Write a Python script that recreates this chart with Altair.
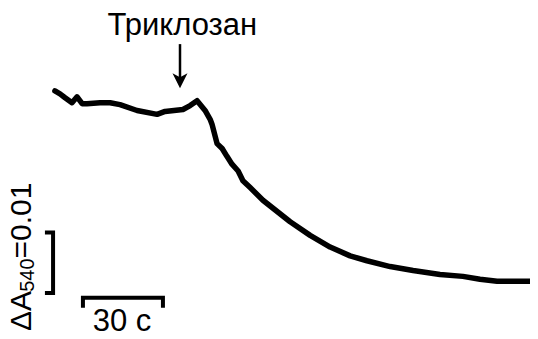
import altair as alt
import pandas as pd

# Trace (time in s, absorbance at 540 nm)
time_s = [17.6, 19.5, 21.4, 24.0, 25.9, 27.8, 29.6, 34.5, 38.3, 42.0, 48.4, 55.9,
          58.9, 65.6, 68.3, 70.9, 73.9, 75.8, 76.5, 78.4, 80.3, 82.1, 84.0, 86.3,
          88.1, 90.8, 95.6, 105.8, 113.3, 120.8, 128.3, 134.6, 143.3, 151.9, 162.0,
          170.6, 177.0, 183.4, 192.0, 198.75]
absorb = [0.03968, 0.03919, 0.03855, 0.03774, 0.03871, 0.03758, 0.03758, 0.03774,
          0.03774, 0.03742, 0.03645, 0.03581, 0.03629, 0.03661, 0.03726, 0.03806,
          0.03645, 0.03500, 0.03419, 0.03097, 0.03016, 0.02887, 0.02758, 0.02645,
          0.02484, 0.02371, 0.02161, 0.01806, 0.01581, 0.01387, 0.01242, 0.01161,
          0.01065, 0.01000, 0.00935, 0.00903, 0.00855, 0.00823, 0.00823, 0.00823]

# Scale bars (30 s and dA = 0.01)
vbar_t = [14.6, 16.9, 16.9, 14.6]
vbar_a = [0.01629, 0.01629, 0.00629, 0.00629]
hbar_t = [28.1, 28.1, 58.1, 58.1]
hbar_a = [0.00419, 0.00548, 0.00548, 0.00419]

# Annotation anchors
label_text = ["Триклозан"]
label_t = [65.4]
label_a = [0.04900]
arrow_t = [64.5]
arrow_top = [0.04742]
arrow_bottom = [0.04177]
arrow_head_a = [0.04137]
time_label = ["30 с"]
time_label_t = [42.75]
time_label_a = [0.0]
abs_parts = ["ΔA", "540", "=0.01"]
abs_parts_t = [8.6, 9.9, 8.6]
abs_parts_a = [0.0, 0.00648, 0.01198]
abs_parts_size = [30, 20, 30]

XS = alt.Scale(domain=[0, 195.75], nice=False, zero=False)
YS = alt.Scale(domain=[0, 0.05339], nice=False, zero=False)
FONT = "Liberation Sans"

def X(f="t"):
    return alt.X(f"{f}:Q", scale=XS, axis=None)

def Y(f="a"):
    return alt.Y(f"{f}:Q", scale=YS, axis=None)

trace_df = pd.DataFrame({"t": time_s, "a": absorb, "o": range(len(time_s))})
trace = alt.Chart(trace_df).mark_line(
    color="black", strokeWidth=5.5, strokeJoin="round", strokeCap="round", clip=True
).encode(x=X(), y=Y(), order="o:Q")

vbar_df = pd.DataFrame({"t": vbar_t, "a": vbar_a, "o": range(4)})
vbar = alt.Chart(vbar_df).mark_line(
    color="black", strokeWidth=4, strokeJoin="miter", strokeCap="square"
).encode(x=X(), y=Y(), order="o:Q")

hbar_df = pd.DataFrame({"t": hbar_t, "a": hbar_a, "o": range(4)})
hbar = alt.Chart(hbar_df).mark_line(
    color="black", strokeWidth=4, strokeJoin="miter", strokeCap="square"
).encode(x=X(), y=Y(), order="o:Q")

label_df = pd.DataFrame({"t": label_t, "a": label_a, "s": label_text})
label = alt.Chart(label_df).mark_text(
    font=FONT, fontSize=31, align="center", baseline="alphabetic", color="black"
).encode(x=X(), y=Y(), text="s:N")

arrow_df = pd.DataFrame({"t": arrow_t, "a": arrow_top, "a2": arrow_bottom, "h": arrow_head_a})
shaft = alt.Chart(arrow_df).mark_rule(color="black", strokeWidth=2.5).encode(
    x=X(), y=Y(), y2="a2:Q"
)
head = alt.Chart(arrow_df).mark_point(
    shape="M-1,-1L0,-0.45L1,-1L0,1Z", size=225, filled=True, color="black", opacity=1
).encode(x=X(), y=Y("h"))

tl_df = pd.DataFrame({"t": time_label_t, "a": time_label_a, "s": time_label})
tlabel = alt.Chart(tl_df).mark_text(
    font=FONT, fontSize=31, align="center", baseline="alphabetic", color="black"
).encode(x=X(), y=Y(), text="s:N")

ab_df = pd.DataFrame({"t": abs_parts_t, "a": abs_parts_a, "s": abs_parts, "fs": abs_parts_size})
alabel = alt.Chart(ab_df).mark_text(
    font=FONT, align="left", baseline="alphabetic", angle=270, color="black"
).encode(x=X(), y=Y(), text="s:N",
         size=alt.Size("fs:Q", scale=None, legend=None))

chart = alt.layer(trace, vbar, hbar, label, shaft, head, tlabel, alabel).properties(
    width=522, height=323, padding=0, autosize=alt.AutoSizeParams(type="none"),
    background="white"
).configure_view(stroke=None)

chart.save("out.html", embed_options={"renderer": "svg", "actions": False})
